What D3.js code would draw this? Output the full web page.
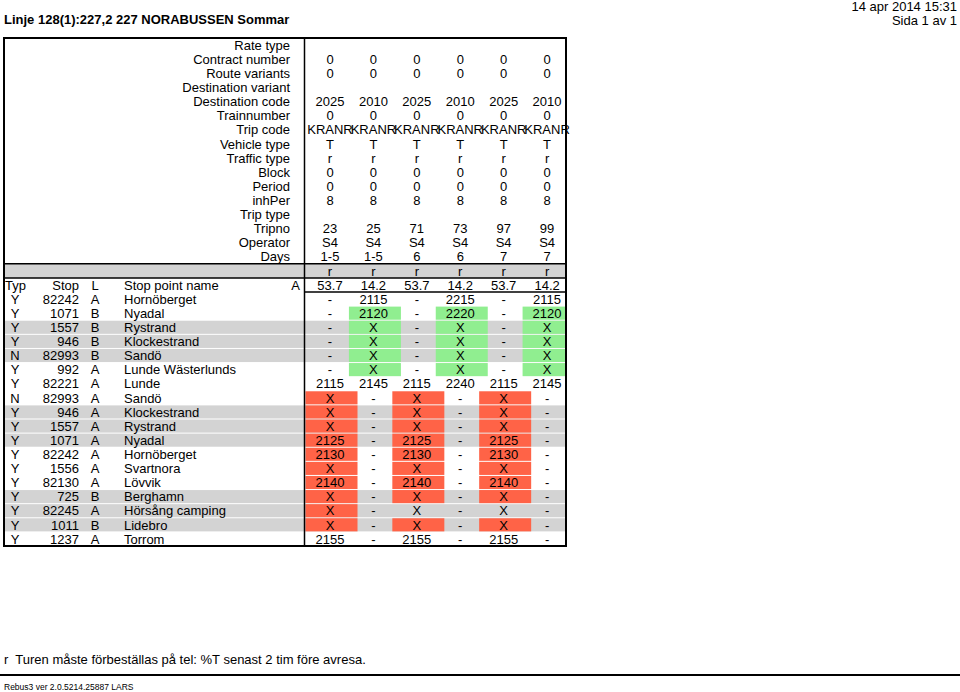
<!DOCTYPE html>
<html><head><meta charset="utf-8">
<script src="https://cdn.jsdelivr.net/npm/d3@7"></script>
<style>
html,body{margin:0;padding:0;background:#fff;}
svg{display:block;font-family:"Liberation Sans",Arial,sans-serif;}
text{white-space:pre;}
</style></head>
<body>
<svg id="c" width="960" height="692"></svg>
<script>
// ---------- data ----------
const title = "Linje 128(1):227,2 227 NORABUSSEN Sommar";
const printDate = "14 apr 2014 15:31";
const pageLabel = "Sida 1 av 1";
const footnote = "r  Turen måste förbeställas på tel: %T senast 2 tim före avresa.";
const versionText = "Rebus3 ver 2.0.5214.25887 LARS";

const headerLabels = ["Rate type","Contract number","Route variants","Destination variant","Destination code","Trainnumber","Trip code","Vehicle type","Traffic type","Block","Period","inhPer","Trip type","Tripno","Operator","Days"];
const rateType = ["","","","","",""];
const contractNumber = ["0","0","0","0","0","0"];
const routeVariants = ["0","0","0","0","0","0"];
const destinationVariant = ["","","","","",""];
const destinationCode = ["2025","2010","2025","2010","2025","2010"];
const trainNumber = ["0","0","0","0","0","0"];
const tripCode = ["KRANR","KRANR","KRANR","KRANR","KRANR","KRANR"];
const vehicleType = ["T","T","T","T","T","T"];
const trafficType = ["r","r","r","r","r","r"];
const block = ["0","0","0","0","0","0"];
const period = ["0","0","0","0","0","0"];
const inhPer = ["8","8","8","8","8","8"];
const tripType = ["","","","","",""];
const tripNo = ["23","25","71","73","97","99"];
const operator = ["S4","S4","S4","S4","S4","S4"];
const days = ["1-5","1-5","6","6","7","7"];
const noteRow = ["r","r","r","r","r","r"];
const distances = ["53.7","14.2","53.7","14.2","53.7","14.2"];

const columnHeaders = ["Typ","Stop","L","Stop point name","A"];
const stopTyp = ["Y","Y","Y","Y","N","Y","Y","N","Y","Y","Y","Y","Y","Y","Y","Y","Y","Y"];
const stopIds = ["82242","1071","1557","946","82993","992","82221","82993","946","1557","1071","82242","1556","82130","725","82245","1011","1237"];
const stopL = ["A","B","B","B","B","A","A","A","A","A","A","A","A","A","B","A","B","A"];
const stopNames = ["Hornöberget","Nyadal","Rystrand","Klockestrand","Sandö","Lunde Wästerlunds","Lunde","Sandö","Klockestrand","Rystrand","Nyadal","Hornöberget","Svartnora","Lövvik","Berghamn","Hörsång camping","Lidebro","Torrom"];
const stopGroup = [0,0,1,1,1,0,0,0,1,1,1,0,0,0,1,1,1,0];
const times = [
  ["-","2115","-","2215","-","2115"],
  ["-","2120","-","2220","-","2120"],
  ["-","X","-","X","-","X"],
  ["-","X","-","X","-","X"],
  ["-","X","-","X","-","X"],
  ["-","X","-","X","-","X"],
  ["2115","2145","2115","2240","2115","2145"],
  ["X","-","X","-","X","-"],
  ["X","-","X","-","X","-"],
  ["X","-","X","-","X","-"],
  ["2125","-","2125","-","2125","-"],
  ["2130","-","2130","-","2130","-"],
  ["X","-","X","-","X","-"],
  ["2140","-","2140","-","2140","-"],
  ["X","-","X","-","X","-"],
  ["X","-","X","-","X","-"],
  ["X","-","X","-","X","-"],
  ["2155","-","2155","-","2155","-"]
];
// 0 = normal, 1 = return leg segment, 2 = outbound leg segment
const cellStatus = [
  [0,0,0,0,0,0],
  [0,1,0,1,0,1],
  [0,1,0,1,0,1],
  [0,1,0,1,0,1],
  [0,1,0,1,0,1],
  [0,1,0,1,0,1],
  [0,0,0,0,0,0],
  [2,0,2,0,2,0],
  [2,0,2,0,2,0],
  [2,0,2,0,2,0],
  [2,0,2,0,2,0],
  [2,0,2,0,2,0],
  [2,0,2,0,2,0],
  [2,0,2,0,2,0],
  [2,0,2,0,2,0],
  [2,0,0,0,0,0],
  [2,0,2,0,2,0],
  [0,0,0,0,0,0]
];

// ---------- drawing ----------
(function(){
const headerValues = [rateType,contractNumber,routeVariants,destinationVariant,destinationCode,trainNumber,tripCode,vehicleType,trafficType,block,period,inhPer,tripType,tripNo,operator,days];
const nHeader = headerLabels.length;
const noteIdx = nHeader;
const colHeadIdx = nHeader + 1;
const dataStart = nHeader + 2;
const nRows = dataStart + stopNames.length;

const svg = d3.select("#c");
const L0 = 4, R0 = 566, SPLIT = 304.5, T0 = 38, B0 = 546;
const font = 13;

const y = d3.scaleBand().domain(d3.range(nRows)).range([T0, B0]).paddingInner(0);
const x = d3.scaleBand().domain(d3.range(6)).range([SPLIT + 1, R0]);
const cx = i => x(i) + 24.5;
const fillColor = d3.scaleOrdinal().domain([0,1,2]).range(["none","#90ee90","#ff6347"]);
const groupColor = d3.scaleOrdinal().domain([0,1]).range(["none","#d3d3d3"]);

svg.append("text").attr("x",4).attr("y",24).attr("font-size",13).attr("font-weight","bold").text(title);
svg.append("text").attr("x",957).attr("y",11).attr("text-anchor","end").attr("font-size",13).text(printDate);
svg.append("text").attr("x",957).attr("y",25).attr("text-anchor","end").attr("font-size",13).text(pageLabel);

svg.append("rect").attr("x",L0).attr("y",y(noteIdx)).attr("width",R0-L0).attr("height",y.bandwidth()).attr("fill","#d3d3d3");

const dataRows = stopNames.map((n,i)=>({i, row: dataStart+i}));
svg.append("g").selectAll("rect").data(dataRows.filter(d=>stopGroup[d.i]===1)).join("rect")
  .attr("x",L0).attr("y",d=>y(d.row)+0.5).attr("width",R0-L0).attr("height",y.bandwidth()-1)
  .attr("fill",d=>groupColor(stopGroup[d.i]));

const cells = [];
times.forEach((r,i)=>r.forEach((v,j)=>cells.push({i,j,v,s:cellStatus[i][j],row:dataStart+i})));
svg.append("g").selectAll("rect").data(cells.filter(c=>c.s>0)).join("rect")
  .attr("x",c=>x(c.j)).attr("y",c=>y(c.row)+0.5)
  .attr("width",c=>Math.min(52, R0 - x(c.j)))
  .attr("height",y.bandwidth()-1)
  .attr("fill",c=>fillColor(c.s));

const txt = (g, xx, yy, s, anchor) => g.append("text").attr("x",xx).attr("y",yy).attr("dy","0.36em")
  .attr("text-anchor",anchor).attr("font-size",font).attr("fill","#000").text(s);
const mid = i => y(i) + y.bandwidth()/2;

const gt = svg.append("g");
headerLabels.forEach((l,i)=>{
  txt(gt, 290, mid(i), l, "end");
  headerValues[i].forEach((v,j)=>{ if(v!=="") txt(gt, cx(j), mid(i), v, "middle"); });
});
noteRow.forEach((v,j)=>txt(gt, cx(j), mid(noteIdx), v, "middle"));
distances.forEach((v,j)=>txt(gt, cx(j), mid(colHeadIdx), v, "middle"));

txt(gt, 5, mid(colHeadIdx), columnHeaders[0], "start");
txt(gt, 79, mid(colHeadIdx), columnHeaders[1], "end");
txt(gt, 95, mid(colHeadIdx), columnHeaders[2], "middle");
txt(gt, 124, mid(colHeadIdx), columnHeaders[3], "start");
txt(gt, 300, mid(colHeadIdx), columnHeaders[4], "end");

dataRows.forEach(d=>{
  const m = mid(d.row);
  txt(gt, 15, m, stopTyp[d.i], "middle");
  txt(gt, 79, m, stopIds[d.i], "end");
  txt(gt, 95, m, stopL[d.i], "middle");
  txt(gt, 124, m, stopNames[d.i], "start");
  times[d.i].forEach((v,j)=>txt(gt, cx(j), m, v, "middle"));
});

const ln = (x1,y1,x2,y2,w)=>svg.append("line").attr("x1",x1).attr("y1",y1).attr("x2",x2).attr("y2",y2)
  .attr("stroke","#000").attr("stroke-width",w||1.5);
svg.append("rect").attr("x",L0).attr("y",T0).attr("width",R0-L0).attr("height",B0-T0)
  .attr("fill","none").attr("stroke","#000").attr("stroke-width",2);
ln(SPLIT, T0, SPLIT, B0);
ln(L0, y(noteIdx), R0, y(noteIdx));
ln(L0, y(noteIdx)+y.bandwidth(), R0, y(noteIdx)+y.bandwidth());
ln(SPLIT, y(dataStart), R0, y(dataStart));

svg.append("text").attr("x",4).attr("y",664).attr("font-size",13).text(footnote);
ln(0, 675, 960, 675, 2);
svg.append("text").attr("x",4).attr("y",690).attr("font-size",8.5).text(versionText);
})();
</script>
</body></html>
